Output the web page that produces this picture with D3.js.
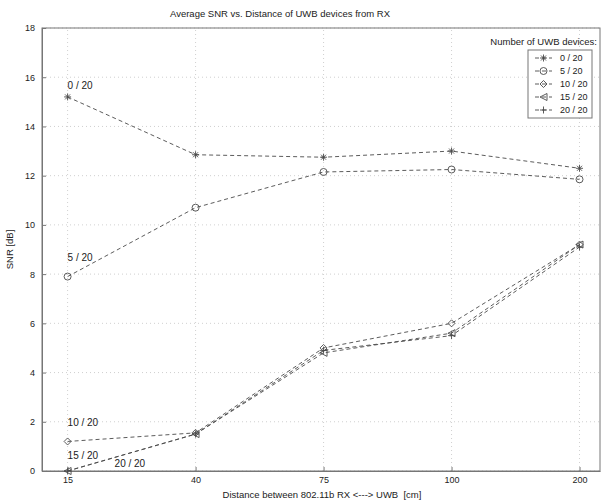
<!DOCTYPE html>
<html>
<head>
<meta charset="utf-8">
<script src="https://cdn.jsdelivr.net/npm/d3@7"></script>
<style>
  body { margin: 0; background: #fff; }
  svg { font-family: "Liberation Sans", Arial, sans-serif; }
  text { white-space: pre; }
</style>
</head>
<body>
<svg id="chart" width="603" height="504"></svg>
<script>
const distances = ["15", "40", "75", "100", "200"];
const yTicks = [0, 2, 4, 6, 8, 10, 12, 14, 16, 18];

const snr0 = [15.2, 12.85, 12.75, 13.0, 12.3];
const snr5 = [7.9, 10.7, 12.15, 12.25, 11.85];
const snr10 = [1.2, 1.55, 5.0, 6.0, 9.2];
const snr15 = [0.0, 1.5, 4.8, 5.6, 9.2];
const snr20 = [0.0, 1.5, 4.9, 5.5, 9.1];

const seriesNames = ["0 / 20", "5 / 20", "10 / 20", "15 / 20", "20 / 20"];
const markers = ["star", "circle", "diamond", "triangle", "plus"];
const series = [snr0, snr5, snr10, snr15, snr20];

const ink = "#4a4a4a";
const textInk = "#222";
const svg = d3.select("#chart");

const margin = { left: 42, right: 3, top: 28, bottom: 33 };
const x = d3.scaleLinear().domain([-0.2, 4.16]).range([margin.left, 603 - margin.right]);
const y = d3.scaleLinear().domain([0, 18]).range([504 - margin.bottom, margin.top]);

// grid
const grid = svg.append("g").attr("stroke", "#c4c4c4").attr("stroke-dasharray", "1,3").attr("stroke-width", 0.8);
grid.selectAll("line.gx").data(distances).enter().append("line")
  .attr("x1", (d, i) => x(i)).attr("x2", (d, i) => x(i))
  .attr("y1", y(0)).attr("y2", y(18));
grid.selectAll("line.gy").data(yTicks).enter().append("line")
  .attr("x1", x.range()[0]).attr("x2", x.range()[1])
  .attr("y1", d => y(d)).attr("y2", d => y(d));

// axes
const xAxis = d3.axisBottom(x).tickValues(d3.range(distances.length))
  .tickFormat(i => distances[i]).tickSizeInner(-4).tickSizeOuter(0).tickPadding(6);
const yAxis = d3.axisLeft(y).tickValues(yTicks).tickSizeInner(-4).tickSizeOuter(0).tickPadding(7);

const gx = svg.append("g").attr("transform", `translate(0,${y(0)})`).call(xAxis);
const gy = svg.append("g").attr("transform", `translate(${x.range()[0]},0)`).call(yAxis);
[gx, gy].forEach(g => {
  g.selectAll("path, line").attr("stroke", "#777");
  g.selectAll("text").attr("fill", textInk).attr("font-size", 9);
});

// box
svg.append("rect")
  .attr("x", x.range()[0]).attr("y", y(18))
  .attr("width", x.range()[1] - x.range()[0]).attr("height", y(0) - y(18))
  .attr("fill", "none").attr("stroke", "#777");

// lines
const line = d3.line().x((d, i) => x(i)).y(d => y(d));
svg.append("g").selectAll("path").data(series).enter().append("path")
  .attr("d", line)
  .attr("fill", "none").attr("stroke", ink).attr("stroke-width", 0.9)
  .attr("stroke-dasharray", "4,3");

const drawMarker = (g, type, cx, cy) => {
  const s = 3.5;
  if (type === "circle") {
    g.append("circle").attr("cx", cx).attr("cy", cy).attr("r", s).attr("fill", "none").attr("stroke", ink);
  } else if (type === "diamond") {
    g.append("path").attr("d", `M${cx},${cy - s}L${cx + s},${cy}L${cx},${cy + s}L${cx - s},${cy}Z`)
      .attr("fill", "none").attr("stroke", ink);
  } else if (type === "triangle") {
    g.append("path").attr("d", `M${cx - s},${cy}L${cx + s},${cy - s}L${cx + s},${cy + s}Z`)
      .attr("fill", "none").attr("stroke", ink);
  } else if (type === "plus") {
    g.append("path").attr("d", `M${cx - s},${cy}H${cx + s}M${cx},${cy - s}V${cy + s}`).attr("stroke", ink);
  } else {
    g.append("path")
      .attr("d", `M${cx - s},${cy}H${cx + s}M${cx},${cy - s}V${cy + s}M${cx - 2.5},${cy - 2.5}L${cx + 2.5},${cy + 2.5}M${cx - 2.5},${cy + 2.5}L${cx + 2.5},${cy - 2.5}`)
      .attr("stroke", ink);
  }
};

const markG = svg.append("g").attr("stroke-width", 0.9);
series.forEach((vals, k) => {
  vals.forEach((v, i) => drawMarker(markG, markers[k], x(i), y(v)));
});

// point labels
const labelPos = [[0, 15.2, 0, -8], [0, 7.9, 0, -16], [0, 1.2, 0, -15], [0, 0, 0, -12], [0, 0, 47, -4]];
svg.append("g").selectAll("text").data(labelPos).enter().append("text")
  .attr("x", d => x(d[0]) + d[2]).attr("y", d => y(d[1]) + d[3])
  .attr("font-size", 10).attr("fill", textInk)
  .text((d, i) => seriesNames[i]);

// legend
svg.append("text").attr("x", 597).attr("y", 45).attr("text-anchor", "end")
  .attr("font-size", 9.5).attr("fill", textInk).text("Number of UWB devices:");
svg.append("rect").attr("x", 528).attr("y", 50).attr("width", 64).attr("height", 68)
  .attr("fill", "#fff").attr("stroke", "#777");
const legG = svg.append("g").attr("stroke-width", 0.9);
seriesNames.forEach((name, k) => {
  const ly = 58 + k * 13;
  legG.append("line").attr("x1", 535).attr("x2", 552).attr("y1", ly).attr("y2", ly)
    .attr("stroke", ink).attr("stroke-dasharray", "4,3");
  drawMarker(legG, markers[k], 543.5, ly);
  legG.append("text").attr("x", 560).attr("y", ly + 3).attr("font-size", 9).attr("fill", textInk).text(name);
});

// titles
svg.append("text").attr("x", 280).attr("y", 17).attr("text-anchor", "middle")
  .attr("font-size", 9.5).attr("fill", textInk)
  .text("Average SNR vs. Distance of UWB devices from RX");
svg.append("text").attr("x", 322).attr("y", 498).attr("text-anchor", "middle")
  .attr("font-size", 9.5).attr("fill", textInk)
  .text("Distance between 802.11b RX <---> UWB  [cm]");
svg.append("text").attr("transform", `translate(13,${(y(0) + y(18)) / 2}) rotate(-90)`)
  .attr("text-anchor", "middle").attr("font-size", 9.5).attr("fill", textInk)
  .text("SNR [dB]");
</script>
</body>
</html>
